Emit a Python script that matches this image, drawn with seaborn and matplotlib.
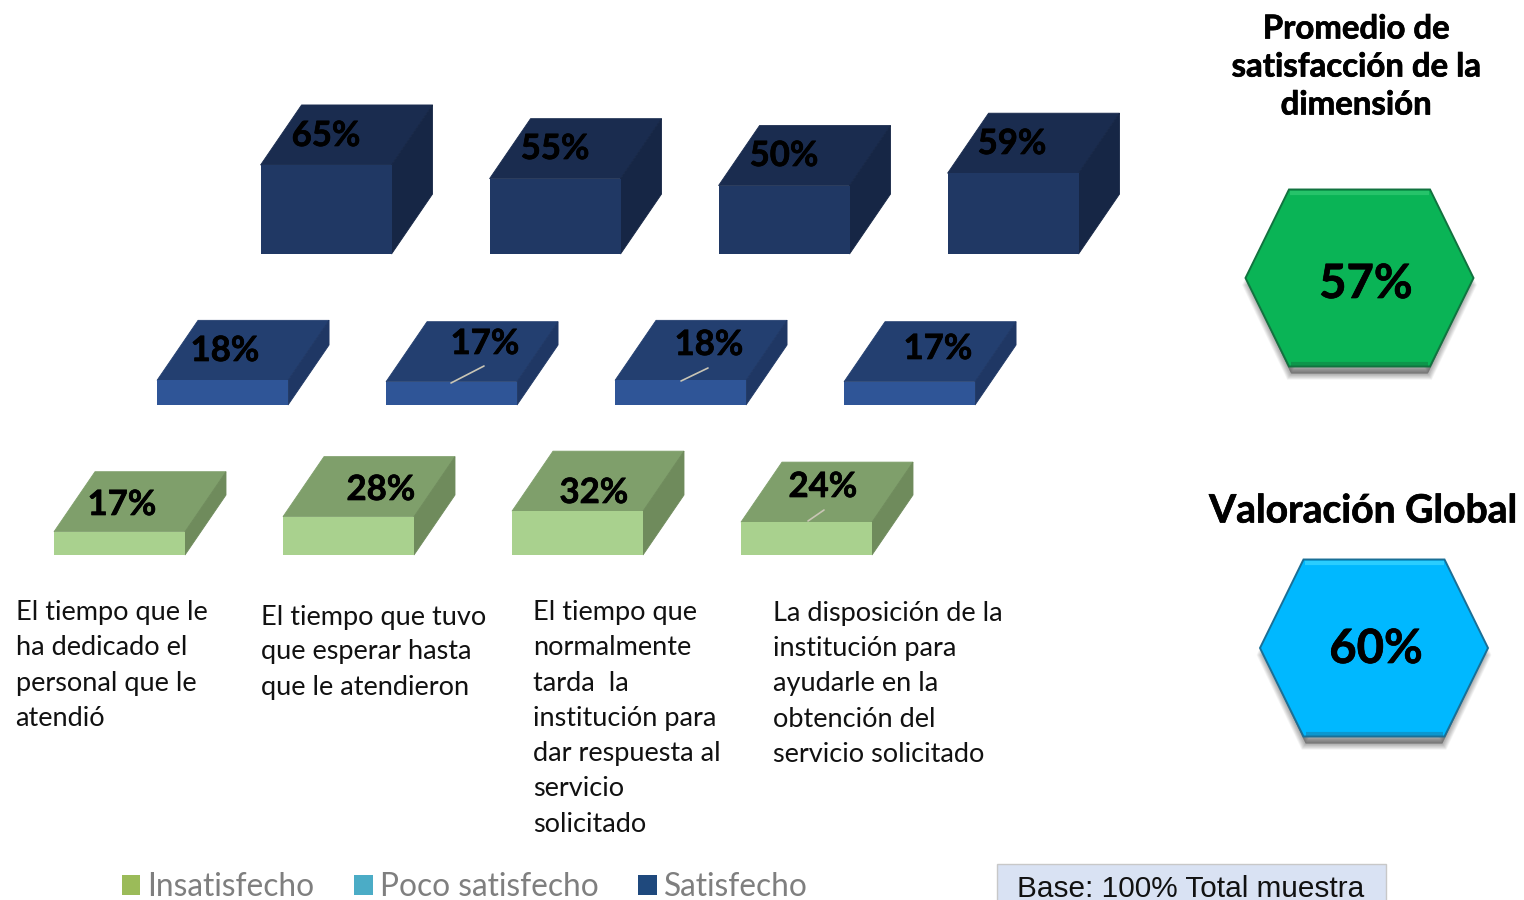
import numpy as np
import matplotlib
matplotlib.use("Agg")
import matplotlib.pyplot as plt
from matplotlib.patches import Polygon, Patch, Rectangle
import matplotlib.patheffects as pe
import seaborn as sns

# ---------- data ----------
dimensions = ["El tiempo que le\nha dedicado el\npersonal que le\natendió",
              "El tiempo que tuvo\nque esperar hasta\nque le atendieron",
              "El tiempo que\nnormalmente\ntarda  la\ninstitución para\ndar respuesta al\nservicio\nsolicitado",
              "La disposición de la\ninstitución para\nayudarle en la\nobtención del\nservicio solicitado"]
insatisfecho = [17, 28, 32, 24]
poco_satisfecho = [18, 17, 18, 17]
satisfecho = [65, 55, 50, 59]
legend_labels = ["Insatisfecho", "Poco satisfecho", "Satisfecho"]
promedio_titulo = "Promedio de\nsatisfacción de la\ndimensión"
promedio_valor = 57
global_titulo = "Valoración Global"
global_valor = 60
base_text = "Base: 100% Total muestra"

# ---------- layout / style ----------
W, H = 1524, 900
PX_PER_PCT = 1.37
PX_PER_CAT = 229.0
X0_PX, Y0_PX = 119.5, 555.0
BAR_W = 131 / PX_PER_CAT
DX = 41 / PX_PER_CAT
DY = 60 / PX_PER_PCT

rows = [
    dict(vals=insatisfecho, shift=0.0, base=0.0,
         front="#a9d18e", top="#7f9f6b", side="#6f8b5c",
         label_px=[(122, 505), (381, 490), (594, 493), (823, 487)]),
    dict(vals=poco_satisfecho, shift=0.45, base=109.5,
         front="#2f5597", top="#233f70", side="#1f3764",
         label_px=[(225, 351), (485, 344), (709, 345), (938, 349)]),
    dict(vals=satisfecho, shift=0.902, base=219.7,
         front="#203864", top="#1a2c4f", side="#162645",
         label_px=[(326, 136), (555, 149), (784, 156), (1012, 144)]),
]
leaders_px = [((451, 383), (484, 366)), ((681, 381), (708, 368)), ((808, 521), (824, 510))]
text_px = [(15.5, 612.5, 35.3), (261, 617, 35.0), (533, 612.5, 35.3), (773, 613.5, 35.2)]

sns.set_theme(style="white")
plt.rcParams["font.family"] = ["Lato", "DejaVu Sans"]

fig = plt.figure(figsize=(W / 100, H / 100), dpi=100, facecolor="white")
ax = fig.add_axes([0, 0, 1, 1])

for r in rows:
    n0 = len(ax.patches)
    xs = np.arange(len(r["vals"])) + r["shift"]
    sns.barplot(x=xs, y=r["vals"], native_scale=True, width=BAR_W, color=r["front"],
                saturation=1, errorbar=None, bottom=r["base"], linewidth=0, ax=ax, zorder=3)
    for bar in list(ax.patches[n0:]):
        x, y, w, h = bar.get_x(), bar.get_y(), bar.get_width(), bar.get_height()
        ax.add_patch(Polygon([(x, y + h), (x + w, y + h), (x + w + DX, y + h + DY), (x + DX, y + h + DY)],
                             closed=True, fc=r["top"], ec=r["top"], lw=0.6, zorder=2))
        ax.add_patch(Polygon([(x + w, y), (x + w + DX, y + DY), (x + w + DX, y + h + DY), (x + w, y + h)],
                             closed=True, fc=r["side"], ec=r["side"], lw=0.6, zorder=2))

ax.set_xlim(-X0_PX / PX_PER_CAT, (W - X0_PX) / PX_PER_CAT)
ax.set_ylim(-(H - Y0_PX) / PX_PER_PCT, Y0_PX / PX_PER_PCT)
ax.set_axis_off()

# overlay in pixel units for annotations
ov = fig.add_axes([0, 0, 1, 1], facecolor="none", zorder=5)
ov.set_xlim(0, W)
ov.set_ylim(H, 0)
ov.set_axis_off()

heavy = [pe.withStroke(linewidth=0.5, foreground="black")]

for r in rows:
    for v, (px, py) in zip(r["vals"], r["label_px"]):
        ov.text(px, py, f"{v}%", ha="center", va="center", fontsize=25, fontweight="bold",
                color="black", path_effects=heavy)
for (a, b) in leaders_px:
    ov.plot([a[0], b[0]], [a[1], b[1]], color="#c9c5b5", lw=1.2)

for label, (px, py, step) in zip(dimensions, text_px):
    for i, line in enumerate(label.split("\n")):
        ov.text(px, py + i * step, line, ha="left", va="center", fontsize=19.5, color="#111111")

for i, line in enumerate(promedio_titulo.split("\n")):
    ov.text(1356, 29 + i * 38, line, ha="center", va="center", fontsize=23.7, fontweight="bold",
            color="black", path_effects=heavy)
ov.text(1363, 511, global_titulo, ha="center", va="center", fontsize=28.1, fontweight="bold",
        color="black", path_effects=heavy)


def hexagon(cx, cy, hw, inset, hh, color, dark, light, value, tx, ty):
    pts = np.array([(cx - hw, cy), (cx - hw + inset, cy - hh), (cx + hw - inset, cy - hh),
                    (cx + hw, cy), (cx + hw - inset, cy + hh), (cx - hw + inset, cy + hh)])
    shadow = (pts - [cx, cy]) * [0.97, 1.0] + [cx, cy + 7]
    for k in range(10, 0, -1):
        ov.add_patch(Polygon(shadow, closed=True, fc="#000000", ec="#000000",
                             lw=k * 0.9, alpha=0.035))
    ov.add_patch(Polygon(pts, closed=True, fc=color, ec=dark, lw=1.4, joinstyle="miter"))
    ov.plot(pts[1:3, 0] + [1, -1], pts[1:3, 1] + 3, color=light, lw=3, alpha=0.8, solid_capstyle="butt")
    ov.plot(pts[4:6, 0] + [-2, 2], pts[4:6, 1] - 2.5, color=dark, lw=3, alpha=0.45, solid_capstyle="butt")
    ov.text(tx, ty, f"{value}%", ha="center", va="center", fontsize=34, fontweight="bold",
            color="black", path_effects=heavy)


hexagon(1359.5, 278, 114, 43.5, 88.5, "#0ab456", "#11733f", "#2ec870", promedio_valor, 1366, 284)
hexagon(1374, 648, 114, 43.5, 88.5, "#00b8ff", "#1a6f96", "#35d3ff", global_valor, 1376, 649)

# base box (runs off the bottom edge of the picture)
ov.add_patch(Rectangle((997, 864), 389, 60, fc="#d9e2f3", ec="#c8c8c8", lw=1))
ov.text(1017, 897, base_text, ha="left", va="baseline", fontsize=21.4,
        family="Liberation Sans", color="#111111")

# legend
handles = [Patch(fc=c, ec="none") for c in ["#9bbb59", "#4bacc6", "#1f497d"]]
leg = ov.legend(handles, legend_labels, ncol=3, loc="center left", frameon=False,
                bbox_to_anchor=(122 / W, 1 - 887 / H), bbox_transform=fig.transFigure,
                prop={"family": "Lato", "size": 22.8}, labelcolor="#7f7f7f",
                handlelength=0.58, handleheight=0.58, handletextpad=0.22,
                columnspacing=1.26, borderpad=0, borderaxespad=0)

fig.savefig("out.png", dpi=100)
